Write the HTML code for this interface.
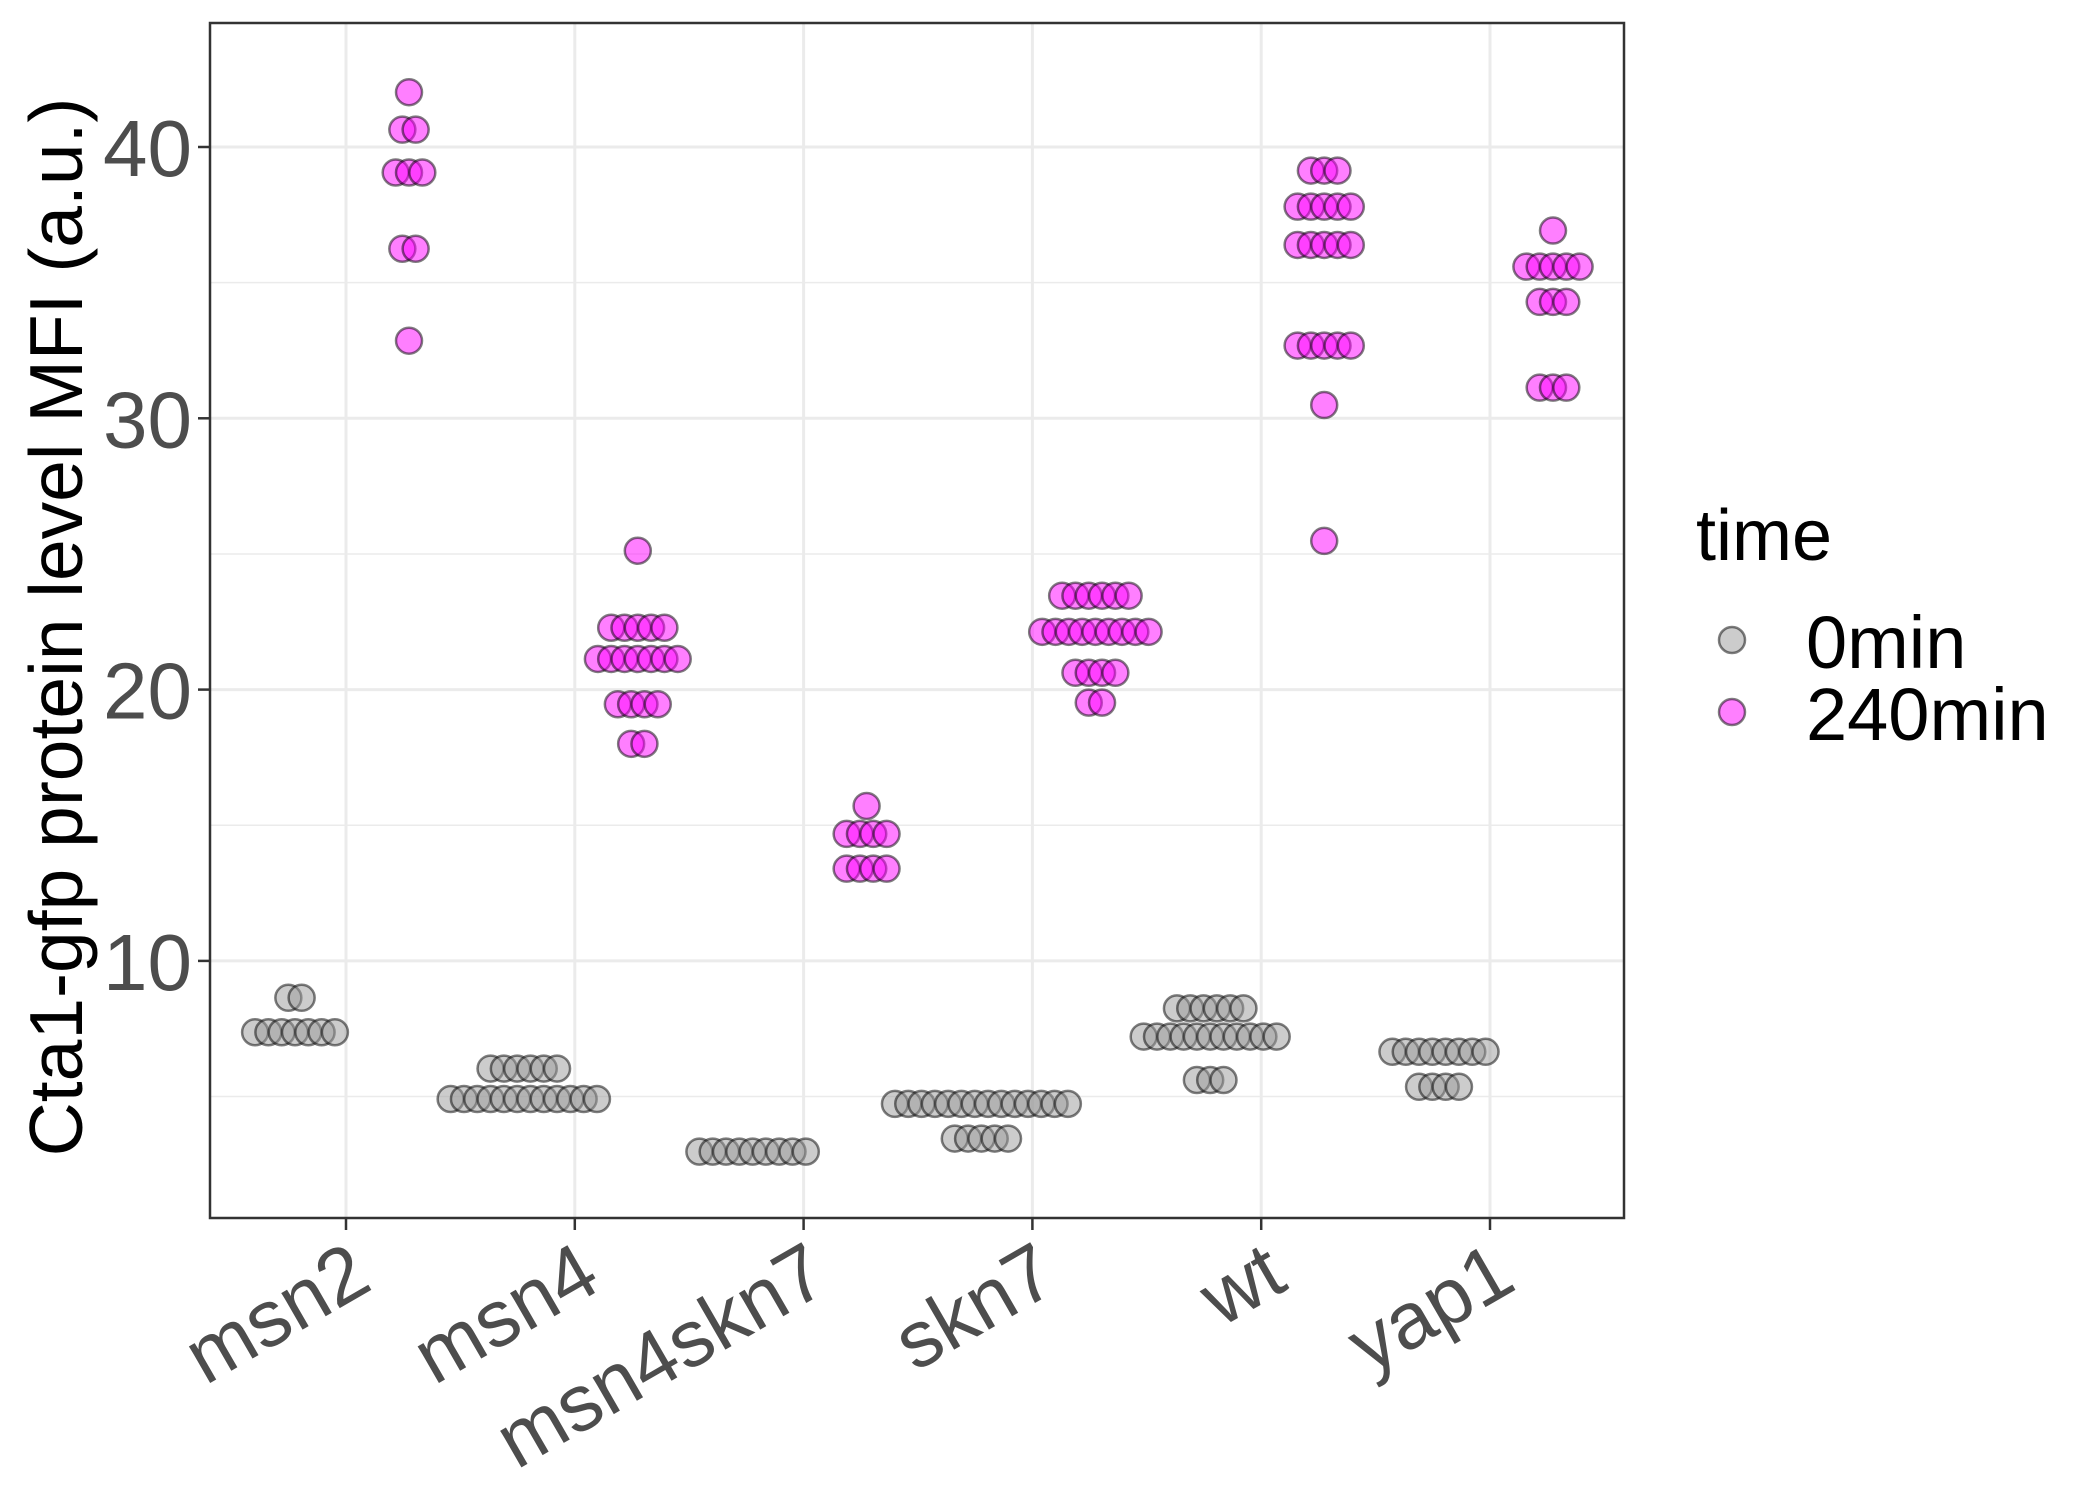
<!DOCTYPE html>
<html><head><meta charset="utf-8"><style>
html,body{margin:0;padding:0;background:#fff}
svg{display:block}
text{font-family:"Liberation Sans",Arial,sans-serif}
</style></head><body>
<svg id="chart" width="2100" height="1500" viewBox="0 0 2100 1500" xmlns="http://www.w3.org/2000/svg">
<rect x="0" y="0" width="2100" height="1500" fill="#fff"/>
<g id="grid"></g>
<g id="dots"></g>
<rect x="210" y="23" width="1414" height="1195" fill="none" stroke="#333" stroke-width="2.5"/>
<g id="axes"></g>
<text x="0" y="0" transform="translate(82,627) rotate(-90)" text-anchor="middle" font-size="75" fill="#000">Cta1-gfp protein level MFI (a.u.)</text>
<g>
<text x="1696" y="560" font-size="72" fill="#000">time</text>
<circle cx="1732" cy="640" r="13" fill="#999" fill-opacity="0.5" stroke="#000" stroke-opacity="0.5" stroke-width="2.5"/>
<text x="1806" y="668" font-size="74" fill="#000">0min</text>
<circle cx="1732" cy="712" r="13" fill="#ff00ff" fill-opacity="0.5" stroke="#000" stroke-opacity="0.5" stroke-width="2.5"/>
<text x="1806" y="740" font-size="74" fill="#000">240min</text>
</g>
</svg>
<script>
const categories = ["msn2","msn4","msn4skn7","skn7","wt","yap1"];
const yTicks = [10,20,30,40];
const yMinor = [5,15,25,35];
// each row: [value, count]
const t0Rows = [
  [[8.64,2],[7.37,7]],
  [[6.03,6],[4.91,12]],
  [[2.97,9]],
  [[4.73,14],[3.45,5]],
  [[8.25,6],[7.21,11],[5.61,3]],
  [[6.65,8],[5.36,4]]
];
const t240Rows = [
  [[42.02,1],[40.64,2],[39.06,3],[36.25,2],[32.86,1]],
  [[25.12,1],[22.28,5],[21.13,7],[19.46,4],[18.0,2]],
  [[15.71,1],[14.68,4],[13.40,4]],
  [[23.46,6],[22.13,9],[20.62,4],[19.52,2]],
  [[39.13,3],[37.8,5],[36.39,5],[32.68,5],[30.49,1],[25.48,1]],
  [[36.92,1],[35.59,5],[34.29,3],[31.13,3]]
];
const NS="http://www.w3.org/2000/svg";
const PL=210,PR=1624,PT=23,PB=1218;
function xScale(i){return 346+i*228.8;}
function yScale(v){return 147+(40-v)*27.13;}
function mk(tag,attrs,parent){const e=document.createElementNS(NS,tag);for(const k in attrs)e.setAttribute(k,attrs[k]);parent.appendChild(e);return e;}
const grid=document.getElementById('grid'),axes=document.getElementById('axes'),dots=document.getElementById('dots');
yMinor.forEach(v=>{const l=mk('line',{x1:PL,x2:PR,y1:yScale(v),y2:yScale(v),stroke:'#ebebeb','stroke-width':1.5},grid);

});
yTicks.forEach(v=>{const y=yScale(v);
const l=mk('line',{x1:PL,x2:PR,y1:y,y2:y,stroke:'#ebebeb','stroke-width':3},grid);


const t=mk('line',{x1:PL-12,x2:PL,y1:y,y2:y,stroke:'#333','stroke-width':2.5},axes);


const tx=mk('text',{x:PL-18,y:y+29,'text-anchor':'end','font-size':80,fill:'#4d4d4d'},axes);tx.textContent=v;

});
categories.forEach((c,i)=>{const x=xScale(i);
const l=mk('line',{x1:x,x2:x,y1:PT,y2:PB,stroke:'#ebebeb','stroke-width':3},grid);


const t=mk('line',{x1:x,x2:x,y1:PB,y2:PB+12,stroke:'#333','stroke-width':2.5},axes);


const tx=mk('text',{x:0,y:0,transform:`translate(${x},${PB+20}) rotate(-30)`,'text-anchor':'end','dominant-baseline':'hanging','font-size':80,fill:'#4d4d4d'},axes);tx.textContent=c;

});
function drawGroup(rows,off,fill,name){
rows.forEach((grp,i)=>{const cx=xScale(i)+off;
grp.forEach(([v,n])=>{const y=yScale(v);
for(let k=0;k<n;k++){const x=cx+(k-(n-1)/2)*13.3;
const d=mk('circle',{cx:x,cy:y,r:13,fill:fill,'fill-opacity':0.5,stroke:'#000','stroke-opacity':0.5,'stroke-width':2.5},dots);

}});});}
drawGroup(t0Rows,-51,'#999','dot-0min');
drawGroup(t240Rows,63,'#ff00ff','dot-240min');
</script>
</body></html>
